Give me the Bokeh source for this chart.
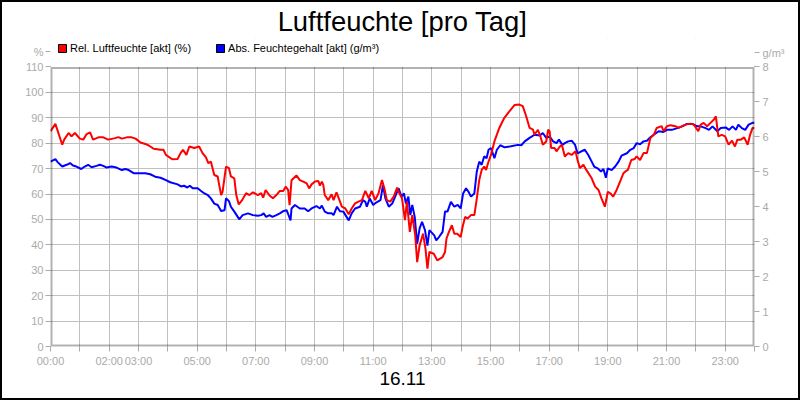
from bokeh.plotting import figure
from bokeh.models import Range1d, LinearAxis, FixedTicker, Title, Legend, LegendItem, BoxAnnotation
from bokeh.embed import file_html
from bokeh.resources import INLINE

# ---------------- data ----------------
title_text = "Luftfeuchte [pro Tag]"
date_text = "16.11"
rel_name = "Rel. Luftfeuchte [akt] (%)"
abs_name = "Abs. Feuchtegehalt [akt] (g/m³)"
left_unit = "%"
right_unit = "g/m³"

x_tick_hours = list(range(25))
x_tick_labels = {0: "00:00", 2: "02:00", 3: "03:00", 5: "05:00", 7: "07:00", 9: "09:00",
                 11: "11:00", 13: "13:00", 15: "15:00", 17: "17:00", 19: "19:00",
                 21: "21:00", 23: "23:00"}
left_ticks = list(range(0, 111, 10))
right_ticks = list(range(0, 9))
left_max, right_max = 110, 8

# relative humidity (%), time in minutes after midnight
rel_minutes = [0, 10, 24, 28, 37, 43, 50, 60, 67, 74, 81, 87, 98, 108, 118, 132, 139, 146, 156, 166,
               174, 184, 194, 201, 211, 225, 231, 236, 249, 260, 266, 271, 278, 284, 294, 304, 311, 318, 323, 328,
               335, 342, 345, 349, 352, 359, 365, 369, 376, 380, 385, 392, 400, 407, 414, 424, 431, 435, 440, 448,
               455, 462, 469, 476, 481, 486, 489, 493, 503, 510, 517, 524, 529, 534, 541, 548, 551, 555, 558, 561,
               568, 575, 579, 585, 591, 596, 603, 610, 616, 623, 630, 637, 644, 651, 657, 664, 671, 678, 683, 688,
               695, 702, 709, 712, 719, 725, 729, 735, 740, 746, 750, 755, 762, 767, 771, 775, 784, 791, 802, 807,
               810, 815, 821, 826, 832, 839, 843, 848, 853, 860, 867, 872, 877, 882, 887, 891, 896, 901, 908, 918,
               928, 939, 949, 959, 966, 973, 980, 987, 990, 997, 1002, 1007, 1014, 1018, 1021, 1024, 1031, 1035, 1042, 1046,
               1052, 1059, 1066, 1074, 1078, 1083, 1090, 1096, 1107, 1114, 1121, 1127, 1134, 1140, 1145, 1151, 1158, 1165, 1172, 1176,
               1181, 1188, 1195, 1199, 1206, 1213, 1220, 1227, 1234, 1240, 1250, 1254, 1261, 1268, 1278, 1285, 1292, 1299, 1309, 1316,
               1325, 1330, 1336, 1343, 1350, 1357, 1361, 1366, 1373, 1380, 1387, 1394, 1400, 1405, 1412, 1419, 1426, 1431, 1436, 1440]
rel_values = [84.7, 87.6, 79.4, 81.4, 84.0, 82.7, 84.0, 81.8, 81.4, 83.6, 84.3, 81.4, 82.3, 82.3, 81.4, 82.0, 82.4, 81.8, 82.3, 82.3,
              81.8, 80.3, 79.7, 79.1, 77.8, 77.4, 77.4, 75.4, 73.7, 73.8, 76.1, 77.4, 75.4, 78.7, 78.1, 78.7, 76.1, 74.4, 72.1, 72.8,
              67.5, 66.9, 63.6, 59.6, 60.9, 70.8, 70.2, 66.9, 66.2, 59.6, 55.9, 57.6, 60.3, 59.6, 60.7, 59.6, 60.3, 58.6, 61.6, 59.4,
              58.3, 59.6, 61.2, 61.2, 62.9, 61.6, 55.6, 65.4, 67.3, 65.5, 64.9, 64.2, 62.2, 63.8, 64.9, 65.1, 63.3, 64.9, 63.6, 59.6,
              57.6, 59.9, 57.6, 60.7, 57.6, 55.0, 54.3, 52.0, 54.3, 56.3, 57.0, 57.6, 61.2, 58.3, 61.2, 57.6, 60.3, 65.5, 62.2, 57.6,
              57.0, 59.0, 62.5, 60.9, 58.3, 49.7, 57.0, 45.1, 51.7, 43.8, 33.2, 39.8, 44.4, 38.5, 30.6, 37.2, 36.5, 33.9, 35.2, 37.2,
              42.5, 45.1, 47.7, 44.4, 44.4, 43.1, 47.1, 51.0, 50.4, 51.7, 51.7, 58.3, 65.5, 69.5, 70.8, 69.5, 72.8, 75.4, 80.7, 86.0,
              89.9, 92.6, 95.0, 95.2, 94.6, 90.6, 86.0, 85.3, 83.3, 85.3, 82.7, 79.4, 80.7, 85.3, 84.7, 78.1, 78.1, 76.8, 78.7, 79.4,
              74.8, 76.1, 75.4, 76.8, 73.4, 70.2, 71.5, 69.5, 66.2, 62.9, 61.6, 58.3, 55.0, 60.9, 60.3, 59.0, 61.6, 64.9, 68.2, 68.9,
              69.5, 73.4, 73.8, 74.8, 73.4, 76.1, 76.1, 82.0, 83.3, 86.0, 86.7, 84.7, 86.7, 87.1, 86.7, 86.0, 86.7, 87.3, 87.7, 87.3,
              84.7, 87.3, 88.0, 86.7, 88.0, 89.3, 90.6, 82.7, 83.3, 82.7, 79.4, 81.0, 78.7, 81.4, 81.4, 82.3, 79.4, 83.3, 86.0, 86.0]

# absolute humidity (g/m³), time in minutes after midnight
abs_minutes = [0, 10, 15, 24, 33, 40, 46, 53, 63, 70, 77, 84, 94, 101, 108, 115, 125, 135, 146, 153,
               160, 170, 180, 194, 204, 214, 225, 235, 245, 260, 267, 273, 280, 285, 291, 301, 308, 315, 322, 328,
               335, 342, 349, 356, 359, 365, 369, 376, 383, 386, 393, 404, 414, 424, 431, 436, 441, 448, 454, 462,
               469, 477, 483, 488, 491, 493, 500, 510, 520, 527, 534, 544, 551, 555, 561, 568, 575, 579, 586, 592,
               599, 610, 616, 623, 633, 639, 644, 647, 653, 660, 666, 675, 680, 685, 692, 699, 705, 712, 718, 723,
               727, 732, 736, 740, 745, 750, 755, 760, 766, 771, 775, 785, 789, 795, 802, 807, 812, 819, 826, 833,
               839, 844, 850, 855, 860, 867, 872, 877, 882, 887, 892, 896, 901, 908, 913, 920, 929, 942, 956, 963,
               970, 980, 990, 1001, 1007, 1014, 1021, 1028, 1035, 1040, 1047, 1052, 1059, 1066, 1073, 1078, 1085, 1093, 1100, 1107,
               1112, 1119, 1126, 1131, 1136, 1140, 1148, 1155, 1162, 1168, 1179, 1186, 1193, 1199, 1206, 1213, 1220, 1227, 1234, 1244,
               1254, 1261, 1271, 1282, 1292, 1302, 1313, 1323, 1330, 1340, 1347, 1354, 1364, 1371, 1381, 1388, 1395, 1402, 1407, 1414,
               1421, 1428, 1436, 1440]
abs_values = [5.29, 5.36, 5.27, 5.15, 5.20, 5.25, 5.18, 5.15, 5.08, 5.15, 5.20, 5.13, 5.17, 5.20, 5.17, 5.12, 5.15, 5.12, 5.05, 5.08,
              5.05, 4.96, 4.96, 4.96, 4.93, 4.86, 4.83, 4.77, 4.70, 4.64, 4.58, 4.60, 4.55, 4.60, 4.53, 4.53, 4.45, 4.38, 4.33, 4.24,
              4.09, 4.05, 3.88, 3.90, 4.24, 4.16, 4.00, 3.86, 3.71, 3.64, 3.76, 3.81, 3.76, 3.74, 3.76, 3.81, 3.71, 3.76, 3.71, 3.76,
              3.81, 3.88, 3.90, 3.72, 3.61, 3.95, 4.05, 3.95, 3.95, 3.87, 3.95, 4.02, 3.95, 4.03, 3.86, 3.81, 3.81, 3.76, 4.00, 3.87,
              3.86, 3.61, 3.81, 3.95, 4.00, 4.19, 4.14, 4.00, 4.24, 4.05, 4.12, 4.19, 4.62, 4.24, 4.00, 4.09, 4.29, 4.53, 4.29, 4.38,
              4.09, 4.29, 3.76, 4.05, 3.71, 2.94, 3.38, 3.57, 3.33, 2.89, 3.33, 3.18, 3.04, 3.14, 3.28, 3.86, 3.86, 4.14, 4.00, 4.05,
              3.95, 4.38, 4.53, 4.43, 4.29, 4.38, 5.01, 5.29, 5.20, 5.44, 5.39, 5.63, 5.68, 5.39, 5.63, 5.76, 5.70, 5.73, 5.77, 5.76,
              5.87, 5.97, 6.06, 6.04, 6.11, 5.97, 6.01, 5.87, 5.82, 5.92, 5.77, 5.82, 5.87, 5.89, 5.77, 5.53, 5.58, 5.63, 5.48, 5.29,
              5.15, 5.10, 5.01, 5.08, 4.83, 5.10, 5.05, 5.15, 5.29, 5.46, 5.53, 5.63, 5.68, 5.82, 5.79, 5.87, 5.89, 5.99, 6.06, 6.16,
              6.14, 6.20, 6.20, 6.25, 6.30, 6.37, 6.37, 6.30, 6.30, 6.25, 6.20, 6.30, 6.16, 6.25, 6.27, 6.20, 6.30, 6.20, 6.35, 6.25,
              6.20, 6.35, 6.40, 6.40]

assert len(rel_minutes) == len(rel_values), (len(rel_minutes), len(rel_values))
assert len(abs_minutes) == len(abs_values), (len(abs_minutes), len(abs_values))

rel_hours = [m / 60 for m in rel_minutes]
abs_hours = [m / 60 for m in abs_minutes]

# ---------------- style ----------------
FONT = "Liberation Sans"
GREY = "#aaaaaa"
GRID = "#c0c0c0"
HEAD = 1.1018           # the frame reaches above the value box to hold the legend row
LEFT_UNIT_POS = 116     # unit labels sit just above the top of each value axis
RIGHT_UNIT_POS = 8.4
NAN = float("nan")

# 800x400 including the 2px border (border-box), so the drawing area is 796x396
p = figure(width=800, height=400,
           min_border_left=48, min_border_right=48, min_border_top=34, min_border_bottom=56,
           x_range=Range1d(0, 24), y_range=Range1d(0, left_max * HEAD),
           output_backend="svg", toolbar_location=None, title=None,
           background_fill_color="white", border_fill_color="white")
p.styles = {"border": "2px solid black"}
p.outline_line_color = None

p.extra_y_ranges = {"abs": Range1d(0, right_max * HEAD)}
right_axis = LinearAxis(y_range_name="abs", ticker=FixedTicker(ticks=right_ticks + [RIGHT_UNIT_POS]),
                        major_label_overrides={RIGHT_UNIT_POS: right_unit})
p.add_layout(right_axis, "right")

p.xaxis.ticker = FixedTicker(ticks=x_tick_hours)
p.xaxis.major_label_overrides = {h: x_tick_labels.get(h, "") for h in x_tick_hours}
left_axis = p.yaxis[0]
left_axis.ticker = FixedTicker(ticks=left_ticks + [LEFT_UNIT_POS])
left_axis.major_label_overrides = {LEFT_UNIT_POS: left_unit}

for ax in [p.xaxis[0], left_axis, right_axis]:
    ax.axis_line_color = None          # the box below draws the axis lines
    ax.major_tick_line_color = GREY
    ax.major_tick_out = 5
    ax.major_tick_in = 0
    ax.minor_tick_line_color = None
    ax.major_label_text_color = GREY
    ax.major_label_text_font = FONT
    ax.major_label_text_font_size = "11px"
    ax.major_label_standoff = 3
left_axis.major_label_standoff = 2

p.xgrid.ticker = FixedTicker(ticks=x_tick_hours)
p.ygrid.ticker = FixedTicker(ticks=left_ticks)
for g in (p.xgrid[0], p.ygrid[0]):
    g.grid_line_color = GRID
    g.grid_line_width = 1

p.line(abs_hours, abs_values, y_range_name="abs", line_color="#0000ff", line_width=2)
p.line(rel_hours, rel_values, line_color="#ff0000", line_width=2)

# black box round the value area, then white over everything above it
p.add_layout(BoxAnnotation(left=0, right=24, bottom=0, top=left_max, fill_color=None,
                           line_color="black", line_width=4))
p.add_layout(BoxAnnotation(bottom=left_max, fill_color="white", fill_alpha=1, line_color=None))

# legend in the row above the value box; swatch renderers hold no drawable data
sw_rel = p.quad(left=[NAN], right=[NAN], top=[NAN], bottom=[NAN], fill_color="#ff0000", line_color="black", line_width=1)
sw_abs = p.quad(left=[NAN], right=[NAN], top=[NAN], bottom=[NAN], fill_color="#0000ff", line_color="black", line_width=1)
legend = Legend(items=[LegendItem(label=rel_name, renderers=[sw_rel]),
                       LegendItem(label=abs_name, renderers=[sw_abs])],
                orientation="horizontal", location=(7, 292),
                padding=0, margin=0, spacing=24,
                glyph_width=10, glyph_height=10, label_height=10, label_standoff=3,
                label_text_font=FONT, label_text_font_size="11px", label_text_color="black",
                label_text_baseline="middle",
                border_line_color=None, background_fill_alpha=0)
p.add_layout(legend, "center")

# chart title and date
p.add_layout(Title(text=title_text, align="center", standoff=3, text_font=FONT,
                   text_font_size="27.4px", text_font_style="normal", text_color="black"), "above")
p.add_layout(Title(text=date_text, align="center", standoff=1, text_font=FONT,
                   text_font_size="19px", text_font_style="normal", text_color="black"), "below")

open("out.html", "w").write(file_html(p, INLINE))
